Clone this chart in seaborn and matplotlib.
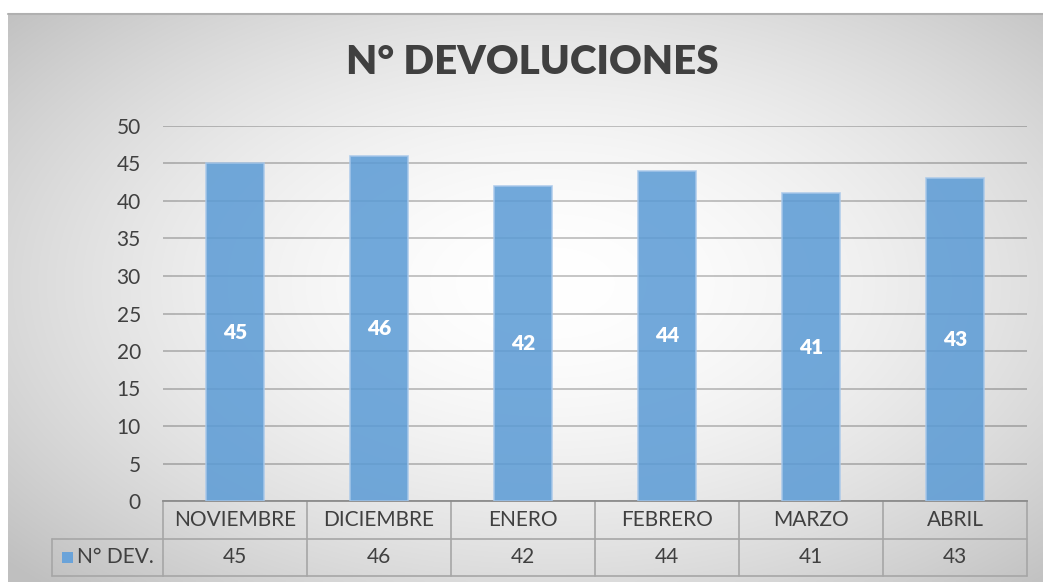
import numpy as np
import pandas as pd
import matplotlib
matplotlib.use("Agg")
import matplotlib.pyplot as plt
import matplotlib.transforms as mtransforms
from matplotlib.patches import Rectangle
import seaborn as sns

months = ["NOVIEMBRE", "DICIEMBRE", "ENERO", "FEBRERO", "MARZO", "ABRIL"]
values = [45, 46, 42, 44, 41, 43]
series_name = "N° DEV."
title = "N° DEVOLUCIONES"
yticks = [0, 5, 10, 15, 20, 25, 30, 35, 40, 45, 50]

sns.set_theme(style="white")
plt.rcParams['font.family'] = ['Lato', 'DejaVu Sans']

W, H = 1043, 582
fig = plt.figure(figsize=(W / 100, H / 100), dpi=100)
fig.patch.set_facecolor("white")

# Chart-area background with radial gradient
x0, y0 = 8, 14
bg = fig.add_axes([x0 / W, 0, 1 - x0 / W, (H - y0) / H])
nx, ny = 400, 220
xx, yy = np.meshgrid(np.linspace(-1, 1, nx), np.linspace(-1, 1, ny))
xx = xx - 0.05
yy = yy + 0.05
r = np.sqrt(xx ** 2 + (yy * 0.95) ** 2) / np.sqrt(2)
r = np.clip(r, 0, 1)
v = 1.0 - 0.25 * r ** 1.7
img = np.dstack([v, v, v])
bg.imshow(img, aspect="auto", extent=[0, 1, 0, 1], interpolation="bilinear")
bg.set_axis_off()
bg.plot([0, 1], [1, 1], color="#b0b0b0", lw=1.5, transform=bg.transAxes, clip_on=False)

# Plot area
pl, pr, pt, pb = 163, 1027, 126, 501
ax = fig.add_axes([pl / W, (H - pb) / H, (pr - pl) / W, (pb - pt) / H])
ax.set_facecolor("none")
df = pd.DataFrame({"mes": months, "val": values})
sns.barplot(data=df, x="mes", y="val", ax=ax, color="#5b9bd5", width=0.4,
            edgecolor="#a8c8ea", linewidth=1.2, saturation=1, zorder=3)
for p in ax.patches:
    p.set_alpha(0.86)
ax.set_ylim(0, 50)
ax.set_xlim(-0.5, len(months) - 0.5)
ax.set_yticks(yticks)
ax.yaxis.grid(True, color="black", alpha=0.24, lw=1.3, zorder=1)
ax.set_axisbelow(True)
for s in ["top", "right", "left"]:
    ax.spines[s].set_visible(False)
ax.spines["bottom"].set_color("#8c8c8c")
ax.spines["bottom"].set_linewidth(1.3)
ax.set_xlabel("")
ax.set_ylabel("")
ax.set_xticks([])
ax.tick_params(axis="y", length=0, labelsize=15, labelcolor="#404040", pad=16)

for p, v_ in zip(ax.patches, values):
    ax.text(p.get_x() + p.get_width() / 2, p.get_height() / 2, str(v_),
            ha="center", va="center", color="white", fontsize=15,
            fontweight="heavy", zorder=5)

# Title
fig.text(532 / W, 1 - 63 / H, title, ha="center", va="center", fontsize=29,
         fontweight="heavy", color="#404040")

# Data table
row_h = 37.5 / (pb - pt)
trans = mtransforms.blended_transform_factory(ax.transData, ax.transAxes)
lc = "#a6a6a6"
n = len(months)
ax.plot([-0.5, n - 0.5], [-row_h, -row_h], color=lc, lw=1.2, transform=trans, clip_on=False)
ax.plot([-0.5, n - 0.5], [-2 * row_h, -2 * row_h], color=lc, lw=1.2, transform=trans, clip_on=False)
for i in range(n + 1):
    ax.plot([i - 0.5, i - 0.5], [0, -2 * row_h], color=lc, lw=1.2, transform=trans, clip_on=False)
leg_left = (52 - pl) / (pr - pl)
ax.plot([leg_left, 0], [-row_h, -row_h], color=lc, lw=1.2, transform=ax.transAxes, clip_on=False)
ax.plot([leg_left, 0], [-2 * row_h, -2 * row_h], color=lc, lw=1.2, transform=ax.transAxes, clip_on=False)
ax.plot([leg_left, leg_left], [-row_h, -2 * row_h], color=lc, lw=1.2, transform=ax.transAxes, clip_on=False)
for i, (m, v_) in enumerate(zip(months, values)):
    ax.text(i, -row_h / 2, m, transform=trans, ha="center", va="center",
            fontsize=15, color="#404040", clip_on=False)
    ax.text(i, -1.5 * row_h, str(v_), transform=trans, ha="center", va="center",
            fontsize=15, color="#404040", clip_on=False)
key_w = 11 / (pr - pl)
key_h = 11 / (pb - pt)
kx = (62 - pl) / (pr - pl)
ax.add_patch(Rectangle((kx, -1.5 * row_h - key_h / 2), key_w, key_h, transform=ax.transAxes,
                       facecolor="#6aa3d9", edgecolor="none", clip_on=False))
ax.text((77 - pl) / (pr - pl), -1.5 * row_h, series_name, transform=ax.transAxes,
        ha="left", va="center", fontsize=15, color="#404040", clip_on=False)

fig.savefig("out.png", dpi=100)
